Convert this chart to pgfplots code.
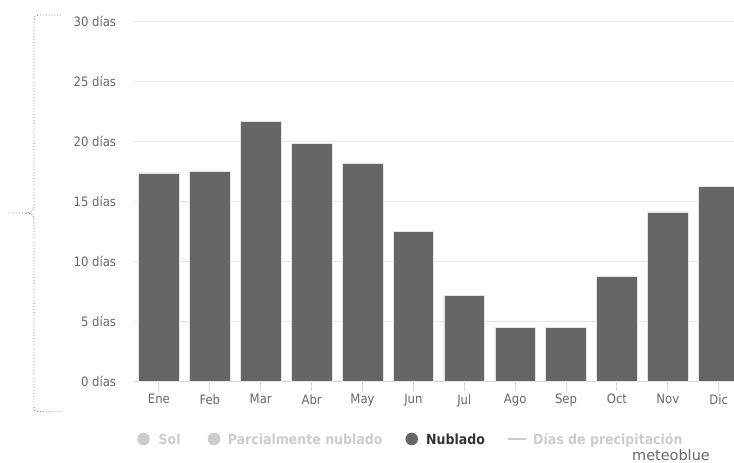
\documentclass[border=0pt]{standalone}
\usepackage{pgfplots}
\pgfplotsset{compat=1.18}
\usepackage{fontspec}
\setmainfont{DejaVu Sans Condensed}
\newfontfamily\wide{DejaVu Sans}
\definecolor{barc}{HTML}{666666}
\definecolor{tickc}{HTML}{666666}
\definecolor{gridc}{HTML}{E6E6E6}
\definecolor{axisc}{HTML}{CCD6EB}
\definecolor{lgoff}{HTML}{CCCCCC}
\definecolor{lgon}{HTML}{333333}
\definecolor{bracec}{HTML}{777777}
\begin{document}
\begin{tikzpicture}
\path[use as bounding box] (0,0) rectangle (734bp,-463bp);
\begin{axis}[
  at={(133.5bp,-381.7bp)}, anchor=south west,
  scale only axis, width=600.5bp, height=360bp,
  xmin=-0.5, xmax=11.3, ymin=0, ymax=30,
  axis x line*=bottom, axis y line*=left,
  x axis line style={draw=axisc, line width=1bp, -},
  y axis line style={draw=none},
  xtick={0,...,11},
  xticklabels={Ene,Feb,Mar,Abr,May,Jun,Jul,Ago,Sep,Oct,Nov,Dic},
  ytick={0,5,10,15,20,25,30},
  yticklabels={0 días,5 días,10 días,15 días,20 días,25 días,30 días},
  tick align=outside,
  major tick length=9bp,
  xtick style={draw=axisc, line width=1bp},
  ytick style={draw=none},
  ymajorgrids, grid style={draw=gridc, line width=1bp},
  tick label style={text=tickc, font=\fontsize{13}{15}\selectfont},
  yticklabel style={xshift=-5bp},
  clip=true,
]
\addplot[ybar, bar width=0.8, fill=barc, draw=white!80!gray, line width=0.6bp]
coordinates {(0,17.4) (1,17.5) (2,21.7) (3,19.85) (4,18.2) (5,12.5) (6,7.2) (7,4.55) (8,4.55) (9,8.8) (10,14.15) (11,16.25)};
\end{axis}
\begin{scope}[x=1bp, y=-1bp]
\draw[bracec, dotted, line width=0.9bp]
  (61,15) -- (38,15) .. controls (35,15) and (34,17) .. (34,20) -- (34,207)
  .. controls (34,211) and (31,213) .. (26,213) -- (8,213);
\draw[bracec, dotted, line width=0.9bp]
  (26,213) .. controls (31,213) and (34,215) .. (34,219) -- (34,407)
  .. controls (34,410) and (35,411.7) .. (38,411.7) -- (61,411.7);
\begin{scope}[font=\fontsize{14}{16}\selectfont\bfseries]
\fill[lgoff] (143.5,439) circle (6.3);
\node[anchor=base west, inner sep=0, text=lgoff] at (158.4,444.5) {Sol};
\fill[lgoff] (214,439) circle (6.3);
\node[anchor=base west, inner sep=0, text=lgoff] at (227.7,444.5) {Parcialmente nublado};
\fill[barc] (411.7,439) circle (6.3);
\node[anchor=base west, inner sep=0, text=lgon] at (426,444.5) {Nublado};
\draw[lgoff, line width=1.2bp] (508,439) -- (526,439);
\node[anchor=base west, inner sep=0, text=lgoff] at (533,444.5) {Días de precipitación};
\end{scope}
\node[anchor=base east, inner sep=0, text=tickc, font=\wide\fontsize{14.5}{16}\selectfont] at (710,460) {meteoblue};
\end{scope}
\end{tikzpicture}
\end{document}
